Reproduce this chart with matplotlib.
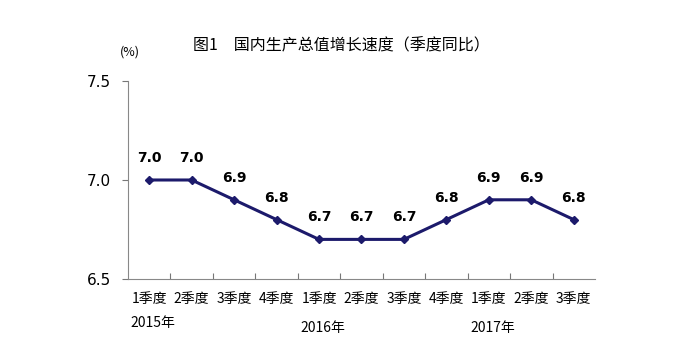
import matplotlib
matplotlib.use("Agg")
import matplotlib.pyplot as plt

plt.rcParams['font.family'] = ['Noto Sans CJK SC', 'DejaVu Sans']

quarters = ["1季度", "2季度", "3季度", "4季度", "1季度", "2季度", "3季度", "4季度", "1季度", "2季度", "3季度"]
growth = [7.0, 7.0, 6.9, 6.8, 6.7, 6.7, 6.7, 6.8, 6.9, 6.9, 6.8]
years = ["2015年", "2016年", "2017年"]

fig = plt.figure(figsize=(6.97, 3.56), dpi=100)
ax = fig.add_axes([0.1836, 0.2163, 0.6700, 0.5562])

x = list(range(len(growth)))
ax.plot(x, growth, color="#1c1a6b", lw=2.2, marker="D", ms=4.5)
for xi, v in zip(x, growth):
    ax.annotate("{:.1f}".format(v), (xi, v), xytext=(0, 13), textcoords="offset points",
                ha="center", fontsize=10, fontweight="bold", family="DejaVu Sans")

ax.set_xlim(-0.5, len(growth) - 0.5)
ax.set_ylim(6.5, 7.5)
ax.set_yticks([6.5, 7.0, 7.5])
ax.set_yticklabels(["6.5", "7.0", "7.5"], fontsize=11, family="DejaVu Sans")
ax.tick_params(axis="y", length=4, color="#777777", pad=8)
ax.set_xticks([i + 0.5 for i in range(len(growth) - 1)])
ax.set_xticklabels([])
ax.tick_params(axis="x", direction="in", length=4, color="#777777")
for s in ["top", "right"]:
    ax.spines[s].set_visible(False)
for s in ["left", "bottom"]:
    ax.spines[s].set_color("#888888")

for xi, q in zip(x, quarters):
    ax.text(xi, -0.10, q, transform=ax.get_xaxis_transform(), ha="center", va="center", fontsize=10)
ax.text(-0.45, -0.22, years[0], transform=ax.get_xaxis_transform(), ha="left", va="center", fontsize=10)
ax.text(4.1, -0.25, years[1], transform=ax.get_xaxis_transform(), ha="center", va="center", fontsize=10)
ax.text(8.1, -0.25, years[2], transform=ax.get_xaxis_transform(), ha="center", va="center", fontsize=10)

fig.text(0.49, 0.872, "图1　国内生产总值增长速度（季度同比）", ha="center", va="center", fontsize=11.5)
fig.text(0.187, 0.855, "(%)", ha="center", va="center", fontsize=9)

fig.savefig("out.png", dpi=100)
